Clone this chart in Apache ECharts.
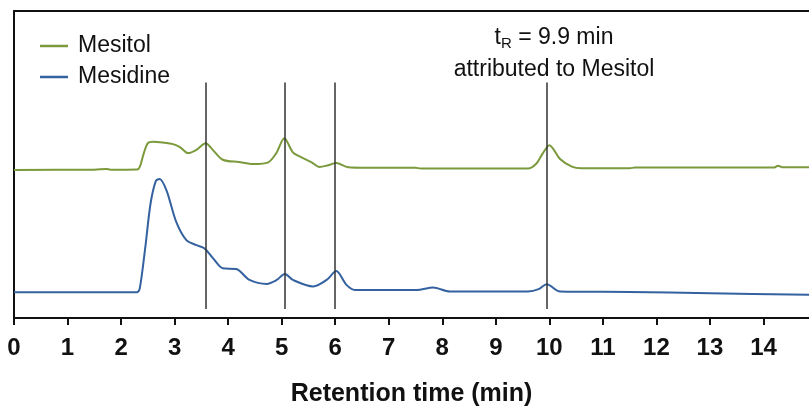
<!DOCTYPE html>
<html lang="en">

<head>
  <meta charset="UTF-8">
  <title>Chromatogram</title>
</head>

<body style="margin:0;">
  <div id="main" style="width: 809px;height:412px;"></div>
  <script src="https://cdn.jsdelivr.net/npm/echarts@6/dist/echarts.min.js"></script>
  <script>
    // retention time (min) / detector signal (a.u., offset traces)
    const mesitolTime = [0, 1.5, 1.73, 1.8, 2.3, 2.35, 2.42, 2.5, 2.6, 2.8, 2.97, 3.1, 3.25, 3.4, 3.58, 3.7,
      3.9, 4.2, 4.47, 4.75, 4.9, 5.05, 5.21, 5.37, 5.56, 5.71, 5.85, 6.02, 6.24, 6.6, 7.5, 7.6, 9.6, 9.75,
      9.88, 10.0, 10.2, 10.42, 10.6, 11.5, 11.6, 13.5, 14.2, 14.27, 14.35, 14.85];
    const mesitolSignal = [149, 149.3, 150, 149.3, 149.5, 152, 165, 176, 177.5, 176.5, 175, 172, 166, 169, 176, 170,
      159.3, 157, 155, 156.7, 166, 181, 166.7, 161.7, 156.7, 152, 153.5, 156, 151.7, 151.2, 151.2, 150.5, 150.5, 155,
      166, 174, 160, 152.3, 150.7, 150.7, 151.5, 151.5, 151.5, 153.3, 151.7, 151.7];

    const mesidineTime = [0, 2.3, 2.35, 2.45, 2.55, 2.65, 2.72, 2.85, 3.03, 3.22, 3.41, 3.56, 3.72, 3.9, 4.15,
      4.4, 4.72, 4.9, 5.06, 5.21, 5.59, 5.84, 6.02, 6.21, 6.37, 7.52, 7.83, 8.14, 9.6, 9.8, 9.95, 10.2, 11.5,
      13.0, 14.85];
    const mesidineSignal = [26, 26, 30, 70, 115, 138, 140, 128.3, 96.7, 78.3, 73.3, 70, 60, 50, 49.3,
      38.3, 34.3, 38, 44.3, 38.3, 31.7, 38.3, 47.3, 33.3, 28.3, 28.3, 30.7, 26.7, 26.7, 29, 34, 26.7, 26.2,
      25, 23.3];

    // marked retention times
    const markedTimes = [3.58, 5.05, 6.0, 9.96];
    const markLow = 9;
    const markHigh = 237;

    const xTicks = [0, 14.85];

    const zip = (xs, ys) => xs.map((x, i) => [x, ys[i]]);

    const myChart = echarts.init(document.getElementById('main'));

    const option = {
      animation: false,
      backgroundColor: '#fff',
      textStyle: { fontFamily: 'Liberation Sans' },
      title: {
        left: 549,
        top: 17,
        textAlign: 'center',
        text: '{t|t}{s|R}{t| = 9.9 min}\n{t|attributed to Mesitol}',
        textStyle: {
          fontWeight: 'normal',
          rich: {
            t: { fontSize: 23, color: '#111', fontWeight: 'normal', fontFamily: 'Liberation Sans', lineHeight: 32 },
            s: { fontSize: 15, color: '#111', fontWeight: 'normal', fontFamily: 'Liberation Sans', padding: [12, 0, 0, 0], lineHeight: 32 }
          }
        }
      },
      legend: {
        orient: 'vertical',
        left: 35,
        top: 29,
        itemWidth: 28,
        itemHeight: 2.5,
        itemGap: 7,
        icon: 'rect',
        textStyle: { fontSize: 23, color: '#111', lineHeight: 24, fontFamily: 'Liberation Sans', padding: [0, 0, 0, 5] },
        data: ['Mesitol', 'Mesidine']
      },
      grid: { left: 14, right: 0, top: 11, bottom: 92 },
      xAxis: [{
        type: 'value',
        min: xTicks[0],
        max: xTicks[1],
        interval: 1,
        name: 'Retention time (min)',
        nameLocation: 'middle',
        nameGap: 64,
        nameTextStyle: { fontSize: 25, fontWeight: 'bold', color: '#111', fontFamily: 'Liberation Sans' },
        axisLine: { lineStyle: { color: '#111', width: 2 } },
        axisTick: { length: 7, lineStyle: { color: '#111', width: 2 } },
        axisLabel: {
          margin: 18,
          fontSize: 24,
          fontWeight: 'bold',
          color: '#111',
          fontFamily: 'Liberation Sans',
          showMaxLabel: false,
          formatter: (v) => (Number.isInteger(v) ? String(v) : '')
        },
        splitLine: { show: false }
      }, {
        type: 'value',
        position: 'top',
        min: xTicks[0],
        max: xTicks[1],
        axisLine: { lineStyle: { color: '#111', width: 2 } },
        axisTick: { show: false },
        axisLabel: { show: false },
        splitLine: { show: false }
      }],
      yAxis: {
        type: 'value',
        min: 0,
        max: 309,
        axisLine: { show: true, lineStyle: { color: '#111', width: 2 } },
        axisTick: { show: false },
        axisLabel: { show: false },
        splitLine: { show: false }
      },
      series: [{
        name: 'Mesitol',
        type: 'line',
        showSymbol: false,
        smooth: 0.3,
        color: '#7A9A3C',
        lineStyle: { width: 2 },
        data: zip(mesitolTime, mesitolSignal),
        markLine: {
          silent: true,
          symbol: 'none',
          label: { show: false },
          lineStyle: { color: '#333', width: 1.5, type: 'solid' },
          data: markedTimes.map((t) => [{ coord: [t, markLow] }, { coord: [t, markHigh] }])
        }
      }, {
        name: 'Mesidine',
        type: 'line',
        showSymbol: false,
        smooth: 0.3,
        color: '#34619F',
        lineStyle: { width: 2 },
        data: zip(mesidineTime, mesidineSignal)
      }]
    };

    myChart.setOption(option);
  </script>
</body>

</html>
